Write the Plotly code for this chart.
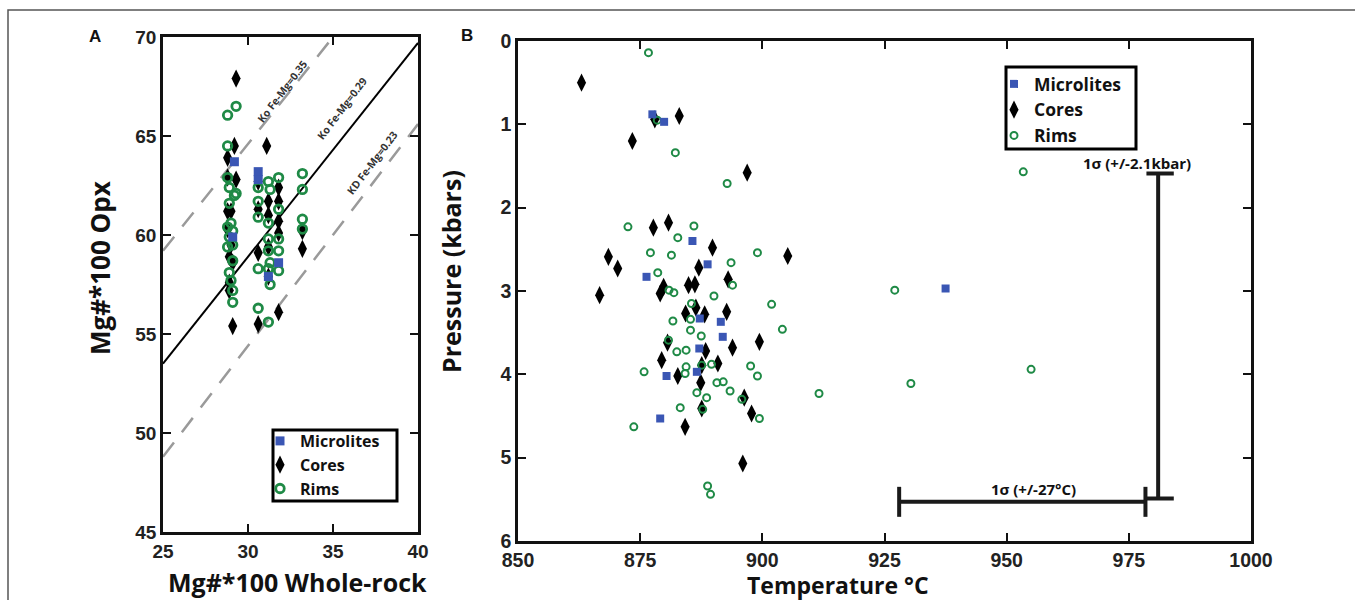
import plotly.graph_objects as go

W, H = 1355, 600

# ---------------- Panel A data ----------------
a_micro_x = [29.2, 30.6, 30.6, 29.1, 31.8, 31.2]
a_micro_y = [63.7, 63.2, 62.8, 59.9, 58.6, 57.9]

a_core_x = [29.3, 29.2, 28.8, 29.3, 28.8, 29.0, 28.8, 28.8, 29.0, 28.9, 29.1, 28.9, 28.9, 29.1,
            31.1, 30.6, 30.6, 31.2, 31.2, 31.8, 31.8, 31.8, 31.8, 31.2, 30.6, 31.2, 31.8, 30.6, 33.2, 33.2]
a_core_y = [67.9, 64.5, 63.9, 62.8, 62.9, 61.2, 61.2, 60.3, 59.5, 58.9, 58.6, 57.6, 57.2, 55.4,
            64.5, 62.7, 61.3, 61.7, 61.0, 61.7, 62.4, 60.7, 60.1, 59.4, 59.1, 57.9, 56.1, 55.5, 60.2, 59.3]

a_rim_x = [28.8, 29.3, 28.8, 28.8, 28.9, 29.3, 29.2, 28.9, 29.0, 28.8, 29.1, 28.9, 29.1, 28.8, 29.1, 28.9, 29.0, 29.1, 29.1,
           30.6, 30.6, 30.6, 31.2, 31.8, 31.3, 31.2, 31.8, 31.2, 31.8, 31.2, 31.8, 31.3, 31.2, 30.6, 31.8, 31.3, 30.6, 31.2,
           33.2, 33.2, 33.2, 33.2]
a_rim_y = [66.05, 66.5, 64.5, 62.9, 62.4, 62.1, 62.0, 61.6, 60.6, 60.4, 60.2, 59.9, 59.5, 59.4, 58.7, 58.1, 57.7, 57.2, 56.6,
           62.4, 61.7, 60.9, 62.7, 62.9, 62.3, 60.6, 61.3, 59.8, 59.8, 59.2, 59.2, 58.6, 58.3, 58.3, 58.2, 57.5, 56.3, 55.6,
           63.1, 62.3, 60.8, 60.3]

# Kd reference lines (end points)
kd035_x = [25, 35.0]
kd035_y = [59.2, 70.0]
kd029_x = [25, 40]
kd029_y = [53.5, 69.7]
kd023_x = [25, 40]
kd023_y = [48.8, 65.6]
kd_labels = ["Ko Fe-Mg=0.35", "Ko Fe-Mg=0.29", "KD Fe-Mg=0.23"]
kd_label_x = [31.98, 35.5, 37.28]
kd_label_y = [67.24, 66.37, 63.66]

# ---------------- Panel B data ----------------
b_micro_T = [877.5, 879.9, 885.7, 888.8, 876.3, 887.2, 891.5, 891.9, 887.1, 886.6, 880.4, 879.1, 937.5]
b_micro_P = [0.88, 0.97, 2.40, 2.68, 2.83, 3.33, 3.37, 3.55, 3.69, 3.97, 4.02, 4.53, 2.97]

b_core_T = [863.0, 883.0, 878.0, 873.4, 896.9, 877.7, 880.8, 868.5, 870.4, 866.7, 889.8, 905.2, 887.0,
            879.1, 879.8, 884.9, 886.2, 893.0, 884.3, 888.2, 892.7, 886.4, 880.6, 893.9, 899.4, 888.4,
            879.4, 890.9, 887.6, 882.7, 887.4, 896.3, 887.6, 897.8, 884.2, 896.0]
b_core_P = [0.50, 0.90, 0.94, 1.20, 1.58, 2.24, 2.18, 2.59, 2.73, 3.05, 2.48, 2.58, 2.72,
            3.03, 2.95, 2.93, 2.92, 2.86, 3.27, 3.28, 3.25, 3.20, 3.62, 3.68, 3.61, 3.72,
            3.83, 3.87, 3.89, 4.02, 4.10, 4.28, 4.41, 4.47, 4.63, 5.07]

b_rim_T = [876.7, 878.5, 882.2, 892.8, 953.4, 872.5, 886.0, 882.7, 877.1, 881.4, 899.0, 893.6, 878.6,
           880.9, 881.9, 893.9, 890.1, 901.9, 885.5, 927.1, 881.7, 885.3, 904.1, 885.3, 887.5, 880.8,
           882.5, 884.4, 875.8, 884.4, 884.2, 887.6, 889.6, 897.6, 899.0, 890.7, 892.0, 893.4, 886.6,
           888.6, 895.8, 883.2, 887.8, 899.4, 873.7, 911.6, 930.4, 955.0, 888.8, 889.4]
b_rim_P = [0.14, 0.95, 1.34, 1.71, 1.57, 2.23, 2.22, 2.36, 2.54, 2.57, 2.54, 2.66, 2.78,
           2.99, 3.02, 2.93, 3.06, 3.16, 3.15, 2.99, 3.36, 3.34, 3.46, 3.47, 3.54, 3.59,
           3.73, 3.71, 3.97, 3.91, 3.99, 3.89, 3.88, 3.90, 4.02, 4.10, 4.09, 4.20, 4.22,
           4.28, 4.30, 4.40, 4.42, 4.53, 4.63, 4.23, 4.11, 3.94, 5.34, 5.44]

# 1-sigma error bars
err_T_span = [928.0, 978.4]
err_T_level = 5.53
err_T_cap = [5.35, 5.71]
err_P_span = [1.59, 5.49]
err_P_level = 981.0
err_P_cap = [978.6, 984.2]
err_T_label = "1σ (+/-27°C)"
err_P_label = "1σ (+/-2.1kbar)"

series_names = ["Microlites", "Cores", "Rims"]

BLUE = "#3a56b4"
BLACK = "#000000"
GREEN = "#1f8a46"
TITLE_FONT = "Open Sans, Liberation Sans, Arial"
TICK_FONT = "Liberation Sans, Arial"

fig = go.Figure()

# ---- Panel A traces ----
DASH = dict(color="#9a9a9a", width=2.5, dash="18px,13px")
fig.add_trace(go.Scatter(x=kd035_x, y=kd035_y, mode="lines", showlegend=False, line=DASH, xaxis="x", yaxis="y"))
fig.add_trace(go.Scatter(x=kd029_x, y=kd029_y, mode="lines", showlegend=False,
                         line=dict(color="#000", width=2), xaxis="x", yaxis="y"))
fig.add_trace(go.Scatter(x=kd023_x, y=kd023_y, mode="lines", showlegend=False, line=DASH, xaxis="x", yaxis="y"))

fig.add_trace(go.Scatter(x=a_core_x, y=a_core_y, mode="markers", name=series_names[1],
                         legend="legend", legendrank=2,
                         marker=dict(symbol="diamond-tall", size=13, color=BLACK),
                         xaxis="x", yaxis="y"))
fig.add_trace(go.Scatter(x=a_rim_x, y=a_rim_y, mode="markers", name=series_names[2],
                         legend="legend", legendrank=3,
                         marker=dict(symbol="circle-open", size=8.5, color=GREEN, line=dict(width=2.8, color=GREEN)),
                         xaxis="x", yaxis="y"))
fig.add_trace(go.Scatter(x=a_micro_x, y=a_micro_y, mode="markers", name=series_names[0],
                         legend="legend", legendrank=1,
                         marker=dict(symbol="square", size=9, color=BLUE),
                         xaxis="x", yaxis="y"))

# ---- Panel B traces ----
fig.add_trace(go.Scatter(x=b_core_T, y=b_core_P, mode="markers", name=series_names[1],
                         legend="legend2", legendrank=2,
                         marker=dict(symbol="diamond-tall", size=13, color=BLACK),
                         xaxis="x2", yaxis="y2"))
fig.add_trace(go.Scatter(x=b_rim_T, y=b_rim_P, mode="markers", name=series_names[2],
                         legend="legend2", legendrank=3,
                         marker=dict(symbol="circle-open", size=7, color=GREEN, line=dict(width=2, color=GREEN)),
                         xaxis="x2", yaxis="y2"))
fig.add_trace(go.Scatter(x=b_micro_T, y=b_micro_P, mode="markers", name=series_names[0],
                         legend="legend2", legendrank=1,
                         marker=dict(symbol="square", size=8, color=BLUE),
                         xaxis="x2", yaxis="y2"))

# error bars
EB = dict(color="#1a1a1a", width=4)
fig.add_trace(go.Scatter(x=err_T_span, y=[err_T_level] * 2, mode="lines", line=EB, showlegend=False, xaxis="x2", yaxis="y2"))
fig.add_trace(go.Scatter(x=[err_T_span[0]] * 2, y=err_T_cap, mode="lines", line=EB, showlegend=False, xaxis="x2", yaxis="y2"))
fig.add_trace(go.Scatter(x=[err_T_span[1]] * 2, y=err_T_cap, mode="lines", line=EB, showlegend=False, xaxis="x2", yaxis="y2"))
fig.add_trace(go.Scatter(x=[err_P_level] * 2, y=err_P_span, mode="lines", line=EB, showlegend=False, xaxis="x2", yaxis="y2"))
fig.add_trace(go.Scatter(x=err_P_cap, y=[err_P_span[0]] * 2, mode="lines", line=EB, showlegend=False, xaxis="x2", yaxis="y2"))
fig.add_trace(go.Scatter(x=err_P_cap, y=[err_P_span[1]] * 2, mode="lines", line=EB, showlegend=False, xaxis="x2", yaxis="y2"))


def px(v):
    return v / W


def py(v):
    return 1 - v / H


tick_a = dict(family=TICK_FONT, size=19, color="#222", weight="bold")
tick_b = dict(family=TICK_FONT, size=19.5, color="#222", weight="bold")
axis_common = dict(showline=True, linewidth=2.5, linecolor="#111", mirror="ticks", ticks="inside",
                   ticklen=8, tickwidth=2, tickcolor="#111", showgrid=False, zeroline=False,
                   automargin=False)

fig.update_layout(
    width=W, height=H,
    margin=dict(l=0, r=0, t=0, b=0),
    paper_bgcolor="white", plot_bgcolor="white",
    xaxis=dict(domain=[px(163), px(418)], range=[25, 40], tickvals=[25, 30, 35, 40], anchor="y",
               tickfont=tick_a, **axis_common),
    yaxis=dict(domain=[py(532), py(37)], range=[45, 70], tickvals=[45, 50, 55, 60, 65, 70], anchor="x",
               tickfont=tick_a, **axis_common),
    xaxis2=dict(domain=[px(518), px(1251)], range=[850, 1000], tickvals=[850, 875, 900, 925, 950, 975, 1000],
                anchor="y2", tickfont=tick_b, **axis_common),
    yaxis2=dict(domain=[py(541), py(41)], range=[6, 0], tickvals=[0, 1, 2, 3, 4, 5, 6], anchor="x2",
                tickfont=tick_b, **axis_common),
    legend=dict(x=px(260), y=py(424), xanchor="left", yanchor="top", bgcolor="rgba(0,0,0,0)",
                borderwidth=0, tracegroupgap=0,
                font=dict(family=TITLE_FONT, size=16, color="#111", weight="bold")),
    legend2=dict(x=px(994), y=py(66), xanchor="left", yanchor="top", bgcolor="rgba(0,0,0,0)",
                 borderwidth=0, tracegroupgap=4,
                 font=dict(family=TITLE_FONT, size=17.5, color="#111", weight="bold")),
    shapes=[
        dict(type="rect", xref="paper", yref="paper", x0=px(8), x1=1.05, y0=-0.05, y1=py(10),
             line=dict(color="#555", width=1.5), fillcolor="rgba(0,0,0,0)", layer="below"),
        dict(type="rect", xref="paper", yref="paper", x0=px(273), x1=px(397), y0=py(501), y1=py(430),
             line=dict(color="#000", width=3), fillcolor="white", layer="above"),
        dict(type="rect", xref="paper", yref="paper", x0=px(1006), x1=px(1136), y0=py(149), y1=py(67),
             line=dict(color="#000", width=3), fillcolor="white", layer="above"),
    ],
    showlegend=True,
)


def lab(text, x, y, size, angle=0, family=TITLE_FONT):
    return dict(text=text, x=px(x), y=py(y), xref="paper", yref="paper", showarrow=False,
                xanchor="center", yanchor="middle", textangle=angle,
                font=dict(family=family, size=size, color="#111", weight="bold"))


annotations = [
    lab("A", 95, 37, 17, family=TICK_FONT),
    lab("B", 467, 35, 17, family=TICK_FONT),
    lab("Mg#*100 Whole-rock", 297, 582, 25),
    lab("Mg#*100 Opx", 100, 268, 26, angle=-90),
    lab("Temperature °C", 838, 585, 23),
    lab("Pressure (kbars)", 451, 272, 25, angle=-90),
    dict(text=err_T_label, x=955.5, y=5.38, xref="x2", yref="y2", showarrow=False,
         xanchor="center", yanchor="middle",
         font=dict(family=TITLE_FONT, size=15, color="#111", weight="bold")),
    dict(text=err_P_label, x=976.6, y=1.46, xref="x2", yref="y2", showarrow=False,
         xanchor="center", yanchor="middle",
         font=dict(family=TITLE_FONT, size=15, color="#111", weight="bold")),
]
for t, xx, yy in zip(kd_labels, kd_label_x, kd_label_y):
    annotations.append(dict(text=t, x=xx, y=yy, xref="x", yref="y", showarrow=False, textangle=-53,
                            xanchor="center", yanchor="middle",
                            font=dict(family=TITLE_FONT, size=10.5, color="#333", weight="bold")))
fig.update_layout(annotations=annotations)

fig.write_html("out.html", config={"displayModeBar": False},
               post_script="document.body.style.margin='0px';document.body.style.padding='0px';")
